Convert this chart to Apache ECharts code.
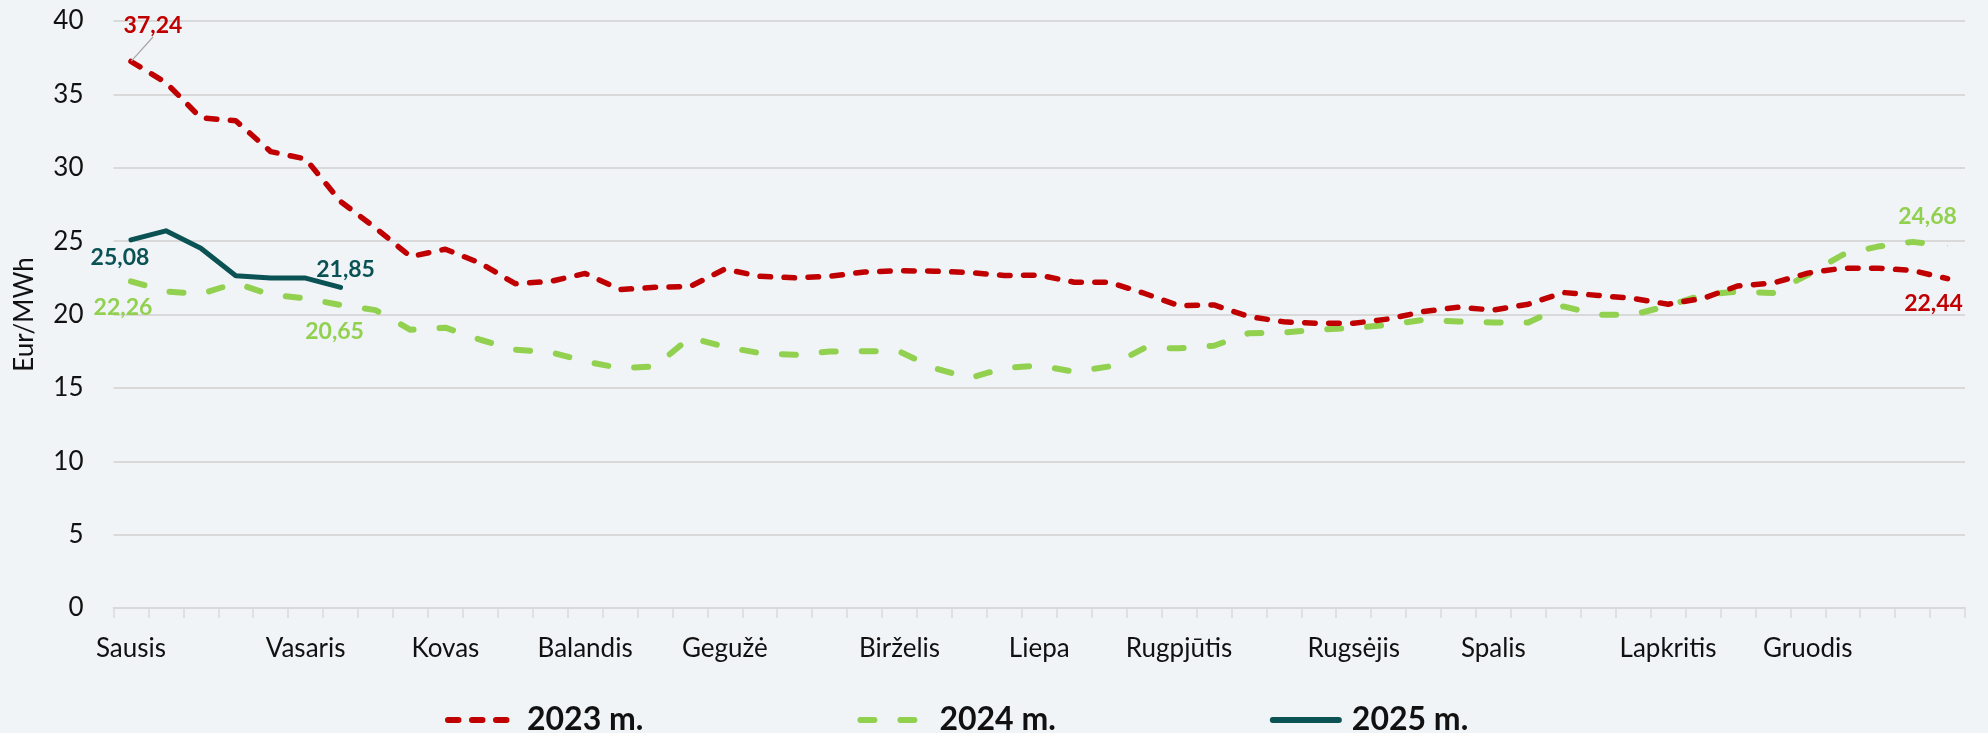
<!DOCTYPE html>
<html>
<head>
<meta charset="utf-8">
<title>Kainos</title>
<script src="https://cdn.jsdelivr.net/npm/echarts@6/dist/echarts.min.js"></script>
<style>
  html, body { margin: 0; padding: 0; background: #f0f4f7; }
  #chart { width: 1988px; height: 733px; }
</style>
</head>
<body>
<div id="chart"></div>
<script>
// savaitės: 53 kategorijos, mėnesio pavadinimas ties pirma mėnesio savaite
var weekLabels = [
  'Sausis', '', '', '', '', 'Vasaris', '', '', '', 'Kovas',
  '', '', '', 'Balandis', '', '', '', 'Gegužė', '', '',
  '', '', 'Birželis', '', '', '', 'Liepa', '', '', '',
  'Rugpjūtis', '', '', '', '', 'Rugsėjis', '', '', '', 'Spalis',
  '', '', '', '', 'Lapkritis', '', '', '', 'Gruodis', '',
  '', '', ''
]

var values2023 = [
  37.24, 35.8, 33.4, 33.2, 31.1, 30.6, 27.7, 25.9, 23.95, 24.45,
  23.5, 22.1, 22.25, 22.8, 21.7, 21.85, 21.9, 23.1, 22.6, 22.5,
  22.6, 22.9, 22.98, 22.95, 22.86, 22.66, 22.68, 22.2, 22.2, 21.45,
  20.6, 20.65, 19.86, 19.5, 19.4, 19.4, 19.7, 20.2, 20.5, 20.3,
  20.7, 21.5, 21.3, 21.1, 20.7, 21.1, 21.95, 22.14, 22.82, 23.16,
  23.16, 23.0, 22.44
]

var values2024 = [
  22.26, 21.57, 21.4, 22.14, 21.34, 21.1, 20.65, 20.3, 18.96, 19.1,
  18.28, 17.6, 17.44, 16.8, 16.35, 16.46, 18.43, 17.8, 17.37, 17.25,
  17.48, 17.5, 17.48, 16.35, 15.67, 16.35, 16.53, 16.1, 16.46, 17.7,
  17.7, 17.87, 18.73, 18.77, 18.98, 19.07, 19.3, 19.64, 19.52, 19.46,
  19.46, 20.55, 19.98, 19.98, 20.6, 21.34, 21.57, 21.46, 22.7, 24.07,
  24.63, 24.95, 24.68
]

var values2025 = [25.08, 25.7, 24.52, 22.64, 22.48, 22.48, 21.85]

var yTicks = [0, 5, 10, 15, 20, 25, 30, 35, 40]

var seriesNames = ['2023 m.', '2024 m.', '2025 m.']
var colors = ['#c00000', '#92d050', '#0b5254']

var FONT = 'Lato'

// pažymėtos reikšmės: indeksas -> poslinkis nuo taško
function withLabels(values, color, marks) {
  return values.map(function (v, i) {
    var m = marks[i]
    if (!m) return v
    return {
      value: v,
      symbol: 'circle',
      symbolSize: 1,
      itemStyle: { color: color },
      label: {
        show: true,
        position: 'inside',
        offset: m,
        formatter: function (p) { return p.value.toFixed(2).replace('.', ',') },
        color: color,
        fontFamily: FONT,
        fontWeight: 'bold',
        fontSize: 23
      }
    }
  })
}

// raudonos serijos žymės perkeliamos per labelLayout (dėl nukreipiamosios linijos)
var marks2023 = { 0: [22, -36], 52: [-14, 25] }

var data2023 = withLabels(values2023, colors[0], { 0: [0, 0], 52: [0, 0] })
var data2024 = withLabels(values2024, colors[1], { 0: [-8, 26], 6: [-6, 27], 52: [-20, -29] })
var data2025 = withLabels(values2025, colors[2], { 0: [-11, 18], 6: [5, -18] })
data2023[0].labelLine = { show: true, length2: 0, lineStyle: { color: '#a6a6a6', width: 1.2 } }

var chart = echarts.init(document.getElementById('chart'))

var option = {
  backgroundColor: '#f0f4f7',
  animation: false,
  grid: { left: 113.5, right: 23, top: 21, bottom: 125 },
  legend: {
    data: seriesNames,
    left: 440,
    top: 699,
    itemWidth: 66,
    itemHeight: 12,
    itemGap: 214,
    itemStyle: { opacity: 0 },
    lineStyle: { width: 6 },
    textStyle: {
      fontFamily: FONT,
      fontSize: 32,
      fontWeight: 'bold',
      color: '#111',
      padding: [0, 0, 0, 8]
    }
  },
  xAxis: {
    type: 'category',
    data: weekLabels,
    boundaryGap: true,
    axisLine: { lineStyle: { color: '#d9d9d9', width: 2 } },
    axisTick: { show: true, interval: 0, length: 10, lineStyle: { color: '#d9d9d9', width: 1.5 } },
    axisLabel: { interval: 0, margin: 28, fontFamily: FONT, fontSize: 26, color: '#111' },
    splitLine: { show: false }
  },
  yAxis: {
    type: 'value',
    min: yTicks[0],
    max: yTicks[yTicks.length - 1],
    interval: yTicks[1] - yTicks[0],
    name: 'Eur/MWh',
    nameLocation: 'middle',
    nameRotate: 90,
    nameGap: 76,
    nameTextStyle: { fontFamily: FONT, fontSize: 26, color: '#111' },
    axisLine: { show: false },
    axisTick: { show: false },
    axisLabel: { margin: 30, fontFamily: FONT, fontSize: 26, color: '#111' },
    splitLine: { lineStyle: { color: '#d9d9d9', width: 2 } }
  },
  series: [
    {
      name: seriesNames[0],
      type: 'line',
      data: data2023,
      symbol: 'none',
      showSymbol: true,
      color: colors[0],
      lineStyle: { color: colors[0], width: 5.5, type: [10.5, 13.5], cap: 'round', join: 'round' },
      labelLayout: function (p) {
        var m = marks2023[p.dataIndex]
        if (m) return { dx: m[0], dy: m[1] }
      },
      emphasis: { disabled: true },
      z: 3
    },
    {
      name: seriesNames[1],
      type: 'line',
      data: data2024,
      symbol: 'none',
      showSymbol: true,
      color: colors[1],
      lineStyle: { color: colors[1], width: 6, type: [14, 26], cap: 'round', join: 'round' },
      emphasis: { disabled: true },
      z: 2
    },
    {
      name: seriesNames[2],
      type: 'line',
      data: data2025,
      symbol: 'none',
      showSymbol: true,
      color: colors[2],
      lineStyle: { color: colors[2], width: 5, cap: 'round', join: 'round' },
      emphasis: { disabled: true },
      z: 4
    }
  ]
}

chart.setOption(option)
</script>
</body>
</html>
